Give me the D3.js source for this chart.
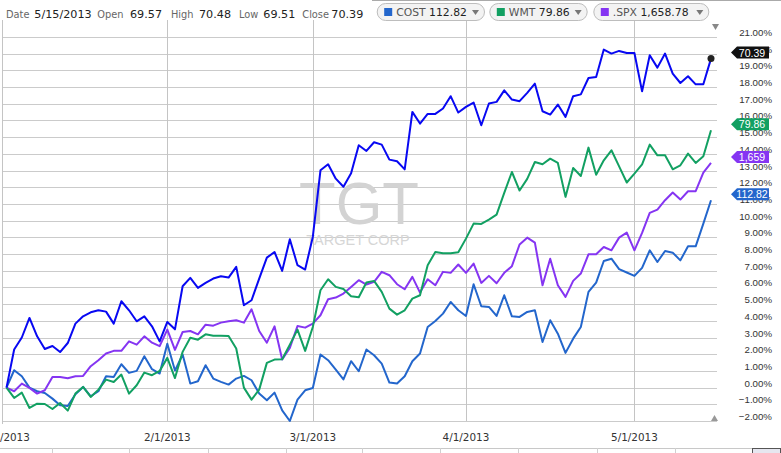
<!DOCTYPE html>
<html>
<head>
<meta charset="utf-8">
<script src="https://cdn.jsdelivr.net/npm/d3@7"></script>
<style>
  body { margin: 0; background: #fff; }
  svg { display: block; }
</style>
</head>
<body>
<svg width="781" height="453"></svg>
<script>
// % change since 1/2/2013, one value per trading day (Jan 2 .. May 15)
const tgt = [0,2.28,3.0,4.17,3.07,2.31,2.49,2.13,2.67,3.83,4.27,4.51,4.63,4.55,3.83,5.17,4.63,3.97,4.27,3.67,2.77,
  3.93,3.49,6.07,6.57,5.97,6.27,6.53,6.67,6.59,7.23,4.93,5.23,6.53,7.78,8.12,6.99,8.88,7.33,7.07,
  9.02,13.01,13.37,12.51,12.03,12.83,14.51,14.17,14.69,14.55,13.65,13.55,13.07,16.51,15.81,16.39,16.39,16.71,17.45,16.47,
  16.81,17.07,15.71,17.01,17.11,17.80,17.25,17.15,17.65,18.20,16.55,16.35,16.95,16.21,17.45,17.56,18.54,18.60,20.24,20.00,20.16,20.04,
  20.04,17.74,19.90,19.16,20.00,18.80,18.24,18.64,18.16,18.16,19.70];
const cost = [0,1.04,0.68,0,-0.22,-0.32,-0.66,-1.06,-1.10,-0.40,0.04,-0.52,-0.22,0.68,0.64,1.40,0.88,1.00,1.88,1.10,0.84,
  2.63,1.02,1.98,0.24,0.38,1.34,0.54,0.34,0.18,0.54,0.70,0.44,-0.36,-0.76,-0.30,-1.36,-2.00,-0.72,-0.16,
  -0.02,1.98,1.64,1.08,0.49,1.58,0.98,2.28,1.94,1.44,0.30,0.24,0.68,1.58,2.04,3.63,3.99,4.43,5.13,4.63,
  4.29,6.19,4.87,4.83,4.29,5.53,4.27,4.23,4.53,4.63,2.73,4.03,3.23,2.08,2.93,3.63,5.73,6.29,7.58,7.72,7.09,6.89,
  6.69,7.17,8.22,7.52,8.18,8.08,7.62,8.46,8.46,9.82,11.22];
const wmt = [0,-0.62,-0.30,-1.22,-0.96,-0.98,-1.28,-0.92,-1.38,-0.36,0.04,-0.56,-0.12,0.48,0.34,0.78,-0.36,0.14,0.90,0.74,1.00,
  1.78,0.57,2.14,2.99,2.87,3.19,3.11,3.11,3.09,2.34,0.00,-0.72,-0.12,1.48,1.68,1.70,2.57,3.47,2.20,
  3.63,5.83,6.49,6.03,5.90,5.47,5.41,6.29,6.39,5.73,4.73,4.37,4.63,5.33,5.53,7.33,8.12,8.04,8.04,8.10,
  8.92,9.82,9.80,10.06,10.36,11.66,12.91,11.80,12.50,13.51,13.37,13.71,13.45,11.42,13.15,12.67,14.37,12.75,13.61,14.21,13.25,12.28,
  12.81,13.37,14.55,13.91,13.91,13.07,13.31,14.01,13.45,13.85,15.41];
const spx = [0,-0.22,0.24,-0.02,-0.36,-0.16,0.64,0.64,0.56,0.68,0.70,1.28,1.64,2.04,2.20,2.20,2.77,2.57,3.07,2.69,2.48,
  3.47,2.26,3.33,3.39,3.19,3.77,3.71,3.89,3.97,4.03,3.89,4.69,3.39,2.69,3.67,1.68,2.38,3.69,3.59,
  3.83,4.33,5.29,5.39,5.63,6.03,6.43,6.17,6.33,6.93,6.73,6.19,5.89,6.63,5.69,6.49,6.13,6.93,6.87,7.37,
  6.87,7.43,6.27,6.69,6.25,6.87,7.27,8.57,8.98,8.68,6.13,7.72,6.13,5.43,6.39,6.83,7.98,7.98,8.42,8.22,8.98,9.28,
  8.22,9.26,10.46,10.66,11.22,11.68,11.26,11.76,11.76,12.87,13.45];

const tickIdx = [0, 21, 40, 60, 82];
const tickLabels = ["1/1/2013", "2/1/2013", "3/1/2013", "4/1/2013", "5/1/2013"];
const yTicks = d3.range(-2, 22);

const header = [["Date", "5/15/2013"], ["Open", "69.57"], ["High", "70.48"], ["Low", "69.51"], ["Close", "70.39"]];
const legend = [
  { name: "COST", value: "112.82", tag: "112.82" },
  { name: "WMT", value: "79.86", tag: "79.86" },
  { name: ".SPX", value: "1,658.78", tag: "1,659" }
];

const colors = { tgt: "#0808f2", cost: "#2366cc", wmt: "#12a062", spx: "#8535f2" };

const svg = d3.select("svg");
const x = d3.scaleLinear().domain([0, tgt.length - 1]).range([6.5, 711]);
const y = d3.scaleLinear().domain([-2, 21]).range([421, 36.9]);

// top frame line
svg.append("line").attr("x1", 372).attr("x2", 781).attr("y1", 0.5).attr("y2", 0.5)
  .attr("stroke", "#aaa");

// horizontal grid
svg.append("g").selectAll("line").data(yTicks).join("line")
  .attr("x1", 2).attr("x2", 717)
  .attr("y1", d => Math.round(y(d)) + 0.5).attr("y2", d => Math.round(y(d)) + 0.5)
  .attr("stroke", "#cbcbcb");

// vertical grid (month starts)
svg.append("g").selectAll("line").data(tickIdx.slice(1)).join("line")
  .attr("x1", d => Math.round(x(d)) + 0.5).attr("x2", d => Math.round(x(d)) + 0.5)
  .attr("y1", 20).attr("y2", 421)
  .attr("stroke", "#c4c4c4");
svg.append("line").attr("x1", 2.5).attr("x2", 2.5).attr("y1", 20).attr("y2", 424).attr("stroke", "#c4c4c4");

// watermark
svg.append("text").attr("x", 359).attr("y", 224).attr("text-anchor", "middle")
  .style("font", "60px 'Liberation Sans', Arial, sans-serif").attr("fill", "#d3d3d3").text("TGT");
svg.append("text").attr("x", 358).attr("y", 245).attr("text-anchor", "middle")
  .style("font", "14.5px 'Liberation Sans', Arial, sans-serif").attr("fill", "#d6d6d6").text("TARGET CORP");

// series
const line = d3.line().x((d, i) => x(i)).y(d => y(d));
[["cost", cost], ["spx", spx], ["wmt", wmt], ["tgt", tgt]].forEach(([k, vals]) => {
  svg.append("path").datum(vals).attr("d", line)
    .attr("fill", "none").attr("stroke", colors[k]).attr("stroke-width", 2)
    .attr("stroke-linejoin", "round");
});

// x axis labels
svg.append("g").selectAll("text").data(tickIdx).join("text")
  .attr("x", d => x(d)).attr("y", 441).attr("text-anchor", "middle")
  .style("font", "10.4px 'DejaVu Sans', Verdana, sans-serif").attr("fill", "#333")
  .text((d, i) => tickLabels[i]);

// y axis labels
svg.append("g").selectAll("text").data(yTicks).join("text")
  .attr("x", 772).attr("y", d => y(d) - 1).attr("text-anchor", "end")
  .style("font", "9.7px 'Liberation Sans', Arial, sans-serif").attr("fill", "#333")
  .text(d => d3.format(".2f")(d) + "%");

// scroll triangles
svg.append("path").attr("d", "M712,24 L719,24 L715.5,30 Z").attr("fill", "#888");
svg.append("path").attr("d", "M711,421 L718,421 L714.5,415 Z").attr("fill", "#999");

// last-value tags
const tags = [
  { v: tgt[tgt.length - 1], text: "70.39", fill: "#111" },
  { v: wmt[wmt.length - 1], text: legend[1].tag, fill: colors.wmt },
  { v: spx[spx.length - 1], text: legend[2].tag, fill: colors.spx },
  { v: cost[cost.length - 1], text: legend[0].tag, fill: colors.cost }
];
tags.forEach(t => {
  const cy = y(t.v) - 6;
  svg.append("path")
    .attr("d", `M731,${cy} L737,${cy - 6} L769,${cy - 6} L769,${cy + 6} L737,${cy + 6} Z`)
    .attr("fill", t.fill);
  svg.append("text").attr("x", 752).attr("y", cy + 4).attr("text-anchor", "middle")
    .style("font", "10.5px 'Liberation Sans', Arial, sans-serif").attr("fill", "#fff").text(t.text);
});

svg.append("circle").attr("cx", x(tgt.length - 1)).attr("cy", y(tgt[tgt.length - 1]))
  .attr("r", 3.5).attr("fill", "#222");

// header
const headerX = [6, 97.3, 171, 239, 302.3];
const valueX = [34.3, 130, 199, 263.3, 331.3];
header.forEach((h, i) => {
  svg.append("text").attr("x", headerX[i]).attr("y", 18)
    .style("font", "9.8px 'DejaVu Sans', Verdana, sans-serif").attr("fill", "#666").text(h[0]);
  svg.append("text").attr("x", valueX[i]).attr("y", 18)
    .style("font", "11.2px 'DejaVu Sans', Verdana, sans-serif").attr("fill", "#222").text(h[1]);
});

// legend pills
const pillX = [[376.7, 484], [489.3, 586.7], [593.3, 708.3]];
const pillColors = [colors.cost, colors.wmt, colors.spx];
legend.forEach((l, i) => {
  const [x0, x1] = pillX[i];
  const g = svg.append("g");
  g.append("rect").attr("x", x0 + 0.5).attr("y", 3.5).attr("width", x1 - x0).attr("height", 17)
    .attr("rx", 8.5).attr("fill", "#f3f3f3").attr("stroke", "#bdbdbd");
  g.append("rect").attr("x", x0 + 7.5).attr("y", 8).attr("width", 8).attr("height", 8).attr("fill", pillColors[i]);
  const t = g.append("text").attr("x", x0 + 19.5).attr("y", 16)
    .style("font", "10.8px 'DejaVu Sans', Verdana, sans-serif");
  t.append("tspan").attr("fill", "#555").text(l.name + " ");
  t.append("tspan").attr("fill", "#222").text(l.value);
  g.append("path").attr("d", `M${x1 - 12},10 L${x1 - 5},10 L${x1 - 8.5},15 Z`).attr("fill", "#777");
});

// bottom strip
svg.append("line").attr("x1", 0).attr("x2", 752).attr("y1", 448.5).attr("y2", 448.5).attr("stroke", "#c8c8c8");
[51.7, 129, 207.7, 285.7, 362, 440, 518, 596.7, 675].forEach(d => {
  svg.append("line").attr("x1", Math.round(d) + 0.5).attr("x2", Math.round(d) + 0.5)
    .attr("y1", 448).attr("y2", 453).attr("stroke", "#d0d0d0");
});
svg.append("rect").attr("x", 752.5).attr("y", 448.5).attr("width", 28).attr("height", 6)
  .attr("fill", "#e6e6ef").attr("stroke", "#555");
</script>
</body>
</html>
